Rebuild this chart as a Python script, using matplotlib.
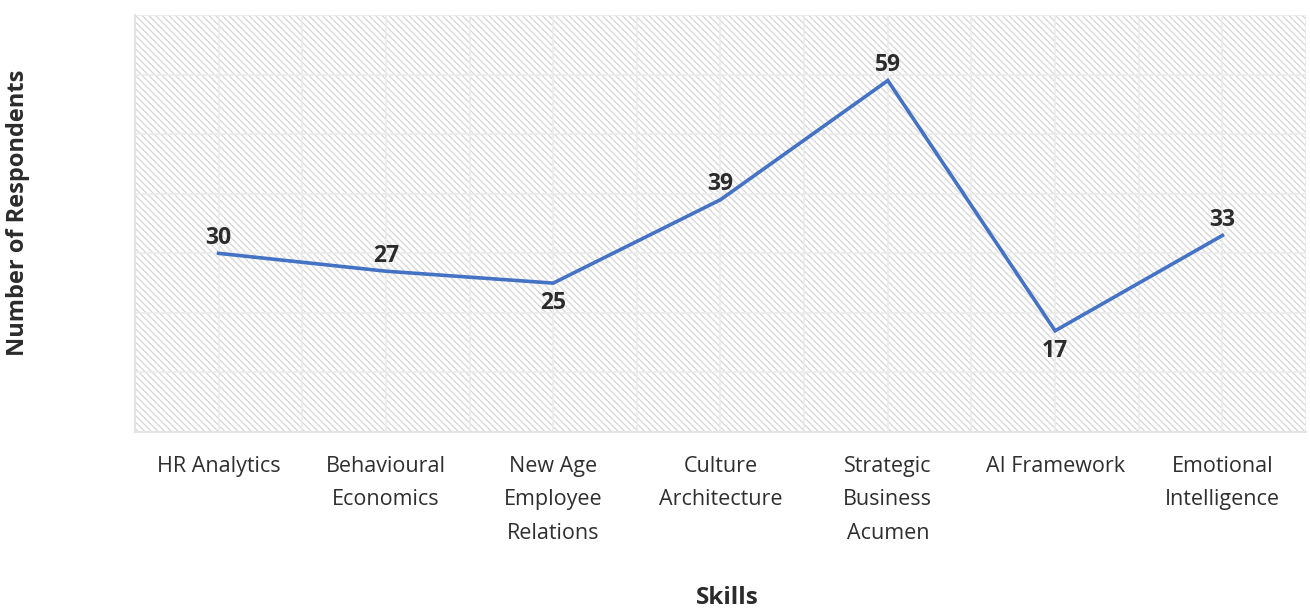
import matplotlib
matplotlib.use("Agg")
import matplotlib.pyplot as plt
import numpy as np

categories = ["HR Analytics", "Behavioural\nEconomics", "New Age\nEmployee\nRelations",
              "Culture\nArchitecture", "Strategic\nBusiness\nAcumen", "AI Framework",
              "Emotional\nIntelligence"]
values = [30, 27, 25, 39, 59, 17, 33]
label_above = [True, True, False, True, True, False, True]

plt.rcParams['font.family'] = ['Open Sans', 'DejaVu Sans']
plt.rcParams['hatch.linewidth'] = 1.0
plt.rcParams['hatch.color'] = '#d9d9d9'

fig = plt.figure(figsize=(13.1, 6.12), dpi=100)
ax = fig.add_axes([0.103, 0.294, 0.894, 0.6815])

x = np.arange(len(categories))
ax.set_xlim(-0.5, len(categories) - 0.5)
ax.set_ylim(0, 70)

# hatched background
ax.add_patch(plt.Rectangle((-0.5, 0), len(categories), 70, facecolor='white',
                           edgecolor='#d9d9d9', hatch='\\\\\\\\\\', linewidth=0, zorder=0))

# grid
for yv in range(10, 71, 10):
    ax.axhline(yv, color='#ebebeb', lw=1.2, zorder=1)
for xv in np.arange(0, len(categories), 0.5):
    ax.axvline(xv, color='#ebebeb', lw=1.2, zorder=1)

ax.plot(x, values, color='#4472C4', lw=2.6, zorder=3, solid_joinstyle='miter')

for xi, v, up in zip(x, values, label_above):
    if up:
        ax.annotate(str(v), (xi, v), xytext=(0, 2.5), textcoords='offset points',
                    ha='center', va='bottom', fontsize=16.5, fontweight='bold', color='#2b2b2b')
    else:
        ax.annotate(str(v), (xi, v), xytext=(0, -6), textcoords='offset points',
                    ha='center', va='top', fontsize=16.5, fontweight='bold', color='#2b2b2b')

ax.set_xticks(x)
ax.set_xticklabels(categories, fontsize=15.5, color='#2f2f2f', linespacing=1.8)
ax.tick_params(axis='x', length=0, pad=17)
ax.set_yticks([])

for s in ['top', 'right']:
    ax.spines[s].set_visible(False)
for s in ['left', 'bottom']:
    ax.spines[s].set_color('#e4e4e4')
    ax.spines[s].set_linewidth(1.5)

fig.text(0.555, 0.004, 'Skills', ha='center', va='bottom', fontsize=17.5,
         fontweight='bold', color='#2b2b2b')
fig.text(0.014, 0.652, 'Number of Respondents', ha='center', va='center', rotation=90,
         fontsize=17, fontweight='bold', color='#2b2b2b')

fig.savefig('out.png', dpi=100)
